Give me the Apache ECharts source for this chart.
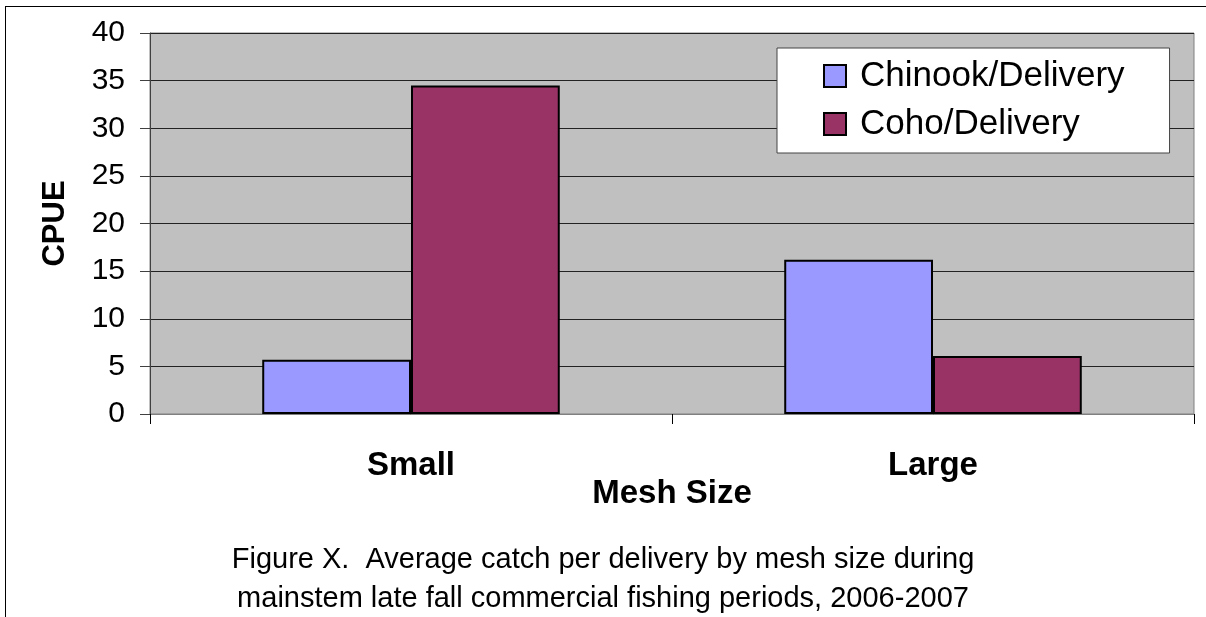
<!DOCTYPE html>
<html>
<head>
<meta charset="utf-8">
<script src="https://cdn.jsdelivr.net/npm/echarts@6/dist/echarts.min.js"></script>
<style>
  html, body { margin: 0; padding: 0; background: #fff; }
  #frame { position: absolute; left: 5px; top: 6px; width: 1201px; height: 611px;
           border-top: 1px solid #000; border-left: 1px solid #000; }
  #chart { position: absolute; left: 0; top: 0; width: 1206px; height: 617px; }
</style>
</head>
<body>
<div id="frame"></div>
<div id="chart"></div>
<script>
// mesh size categories
var meshSizes = ['Small', 'Large'];
// catch per delivery
var chinookPerDelivery = [5.7, 16.2];
var cohoPerDelivery = [34.5, 6.1];
var seriesNames = ['Chinook/Delivery', 'Coho/Delivery'];
var captionLines = [
  'Figure X.  Average catch per delivery by mesh size during',
  'mainstem late fall commercial fishing periods, 2006-2007'
];

var font = 'Arial, "Liberation Sans", sans-serif';

var option = {
  animation: false,
  title: {
    text: captionLines.join('\n'),
    left: 'center',
    top: 535,
    textStyle: {
      fontFamily: font,
      fontSize: 29,
      fontWeight: 'normal',
      color: '#000',
      lineHeight: 39
    }
  },
  legend: {
    orient: 'vertical',
    left: 777,
    top: 48,
    padding: [10, 45, 11, 46],
    backgroundColor: '#fff',
    borderColor: '#444',
    borderWidth: 1,
    borderRadius: 0,
    icon: 'rect',
    itemWidth: 22,
    itemHeight: 22,
    itemGap: 12,
    textStyle: {
      fontFamily: font,
      fontSize: 35,
      color: '#000',
      lineHeight: 36,
      padding: [0, 0, 0, 9]
    },
    data: seriesNames
  },
  grid: {
    left: 150,
    right: 12,
    top: 33,
    bottom: 203,
    show: true,
    backgroundColor: '#C0C0C0',
    borderColor: '#808080',
    borderWidth: 1
  },
  xAxis: {
    type: 'category',
    data: meshSizes,
    name: 'Mesh Size',
    nameLocation: 'middle',
    nameGap: 63,
    nameMoveOverlap: false,
    nameTextStyle: { fontFamily: font, fontSize: 33, fontWeight: 'bold', color: '#000' },
    axisLine: { lineStyle: { color: '#808080', width: 1 } },
    axisTick: { show: true, length: 10, lineStyle: { color: '#000' } },
    axisLabel: { margin: 35, fontFamily: font, fontSize: 33, fontWeight: 'bold', color: '#000' }
  },
  yAxis: {
    type: 'value',
    min: 0,
    max: 40,
    interval: 5,
    name: 'CPUE',
    nameLocation: 'middle',
    nameGap: 79,
    nameMoveOverlap: false,
    nameTextStyle: { fontFamily: font, fontSize: 31, fontWeight: 'bold', color: '#000' },
    axisLine: { show: true, lineStyle: { color: '#404040', width: 1 } },
    axisTick: { show: true, length: 10, lineStyle: { color: '#404040' } },
    axisLabel: { margin: 25, fontFamily: font, fontSize: 30, color: '#000' },
    splitLine: { lineStyle: { color: '#222', width: 1 } }
  },
  series: [
    {
      name: seriesNames[0],
      type: 'bar',
      data: chinookPerDelivery,
      barGap: '0%',
      barCategoryGap: '43%',
      itemStyle: { color: '#9999FF', borderColor: '#000', borderWidth: 2 }
    },
    {
      name: seriesNames[1],
      type: 'bar',
      data: cohoPerDelivery,
      itemStyle: { color: '#993366', borderColor: '#000', borderWidth: 2 }
    }
  ]
};

echarts.init(document.getElementById('chart')).setOption(option);
</script>
</body>
</html>
